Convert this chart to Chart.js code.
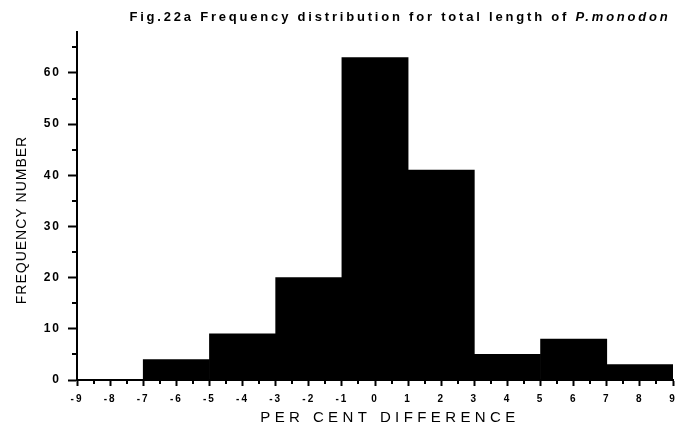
<!DOCTYPE html>
<html>
<head>
<meta charset="utf-8">
<title>Fig.22a Frequency distribution for total length of P.monodon</title>
<script src="https://cdn.jsdelivr.net/npm/chart.js@4/dist/chart.umd.min.js"></script>
<style>
  html, body { margin: 0; padding: 0; background: #fff; }
  #wrap { width: 676px; height: 432px; position: relative; }
</style>
</head>
<body>
<div id="wrap"><canvas id="chart" width="676" height="432"></canvas></div>
<script>
// Histogram bins: centre of each 2-unit class of per cent difference
const binCenters = [-8, -6, -4, -2, 0, 2, 4, 6, 8];
// Number of specimens in each class
const frequency = [0, 4, 9, 20, 63, 41, 5, 8, 3];
// Axis tick values
const xTickValues = [-9, -8, -7, -6, -5, -4, -3, -2, -1, 0, 1, 2, 3, 4, 5, 6, 7, 8, 9];
const xMinorTicks = [-8.5, -7.5, -6.5, -5.5, -4.5, -3.5, -2.5, -1.5, -0.5, 0.5, 1.5, 2.5, 3.5, 4.5, 5.5, 6.5, 7.5, 8.5];
const yTickValues = [0, 10, 20, 30, 40, 50, 60];
const yMinorTicks = [5, 15, 25, 35, 45, 55, 65];

const titleMain = 'Fig.22a Frequency distribution for total length of ';
const titleSpecies = 'P.monodon';
const xTitle = 'PER CENT DIFFERENCE';
const yTitle = 'FREQUENCY NUMBER';

const FONT = '"Liberation Sans", Arial, sans-serif';

// Wider letter spacing for the tick labels drawn by the scales
const spacedTicks = {
  id: 'spacedTicks',
  beforeDraw(chart) { chart.ctx.letterSpacing = '2px'; },
  afterDraw(chart) { chart.ctx.letterSpacing = '0px'; }
};

// Minor tick marks and the spaced-out titles
const decorations = {
  id: 'decorations',
  afterDraw(chart) {
    const ctx = chart.ctx;
    const xs = chart.scales.x, ys = chart.scales.y;
    const area = chart.chartArea;
    ctx.save();
    ctx.strokeStyle = '#000';
    ctx.lineWidth = 2;
    ctx.beginPath();
    xMinorTicks.forEach(v => {
      const px = Math.round(xs.getPixelForValue(v));
      ctx.moveTo(px, area.bottom);
      ctx.lineTo(px, area.bottom + 4);
    });
    yMinorTicks.forEach(v => {
      const py = Math.round(ys.getPixelForValue(v));
      ctx.moveTo(area.left, py);
      ctx.lineTo(area.left - 5, py);
    });
    ctx.stroke();

    ctx.fillStyle = '#000';
    ctx.textBaseline = 'middle';

    // Chart title, species name in italics
    ctx.letterSpacing = '2.8px';
    ctx.font = 'bold 13px ' + FONT;
    const w1 = ctx.measureText(titleMain).width;
    ctx.font = 'italic bold 13px ' + FONT;
    const w2 = ctx.measureText(titleSpecies).width;
    const tx = 400 - (w1 + w2) / 2;
    ctx.textAlign = 'left';
    ctx.font = 'bold 13px ' + FONT;
    ctx.fillText(titleMain, tx, 17);
    ctx.font = 'italic bold 13px ' + FONT;
    ctx.fillText(titleSpecies, tx + w1, 17);

    // X axis title
    ctx.letterSpacing = '4.4px';
    ctx.font = '15px ' + FONT;
    ctx.textAlign = 'center';
    ctx.fillText(xTitle, 390, 418);

    // Y axis title
    ctx.letterSpacing = '1px';
    ctx.font = '14px ' + FONT;
    ctx.translate(22, 220);
    ctx.rotate(-Math.PI / 2);
    ctx.fillText(yTitle, 0, 0);
    ctx.restore();
  }
};

new Chart(document.getElementById('chart'), {
  type: 'bar',
  data: {
    datasets: [{
      data: binCenters.map((c, i) => ({ x: c, y: frequency[i] })),
      backgroundColor: '#000',
      borderWidth: 0,
      barThickness: 'flex',
      barPercentage: 1,
      categoryPercentage: 1
    }]
  },
  options: {
    responsive: false,
    animation: false,
    devicePixelRatio: 1,
    layout: { padding: { top: 32, right: 3, left: 0, bottom: 0 } },
    plugins: {
      legend: { display: false },
      tooltip: { enabled: false },
      title: { display: false }
    },
    scales: {
      x: {
        type: 'linear',
        min: -9,
        max: 9,
        offset: false,
        afterBuildTicks: s => { s.ticks = xTickValues.map(v => ({ value: v })); },
        afterFit: s => { s.height = 52; s.paddingLeft = 0; s.paddingRight = 0; },
        grid: {
          offset: false,
          drawOnChartArea: false,
          drawTicks: true,
          tickLength: 6,
          tickColor: '#000',
          tickWidth: 2
        },
        border: { display: true, color: '#000', width: 2 },
        ticks: {
          color: '#000',
          padding: 7,
          maxRotation: 0,
          autoSkip: false,
          font: { family: FONT, size: 10, weight: 'bold' },
          callback: v => String(v)
        }
      },
      y: {
        type: 'linear',
        min: 0,
        max: 68,
        afterBuildTicks: s => { s.ticks = yTickValues.map(v => ({ value: v })); },
        afterFit: s => { s.width = 77; s.paddingTop = 0; s.paddingBottom = 0; },
        grid: {
          drawOnChartArea: false,
          drawTicks: true,
          tickLength: 9,
          tickColor: '#000',
          tickWidth: 2
        },
        border: { display: true, color: '#000', width: 2 },
        ticks: {
          color: '#000',
          padding: 7,
          font: { family: FONT, size: 12, weight: 'bold' }
        }
      }
    }
  },
  plugins: [spacedTicks, decorations]
});
</script>
</body>
</html>
